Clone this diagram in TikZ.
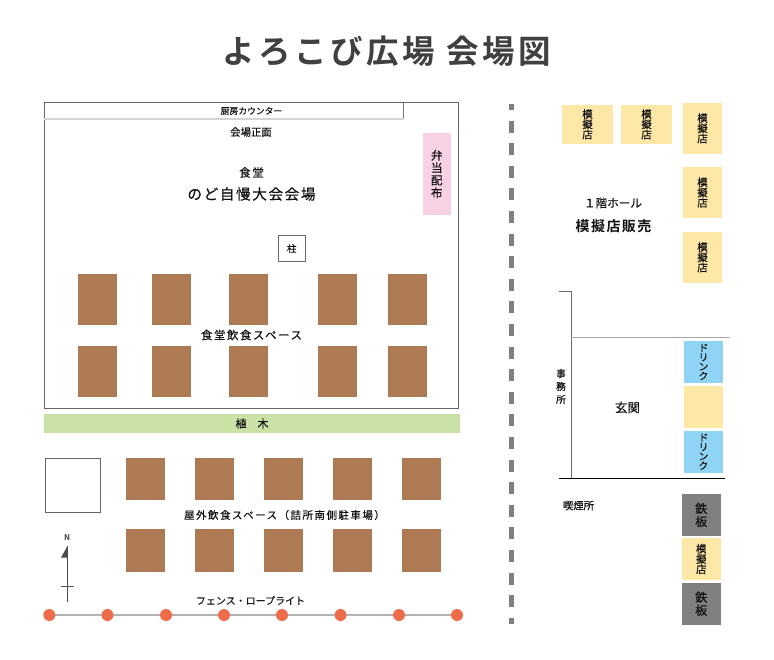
\documentclass[tikz,border=0pt]{standalone}
\usepackage{fontspec}
\setmainfont{Noto Sans CJK JP}
\newfontfamily\jp{Noto Sans CJK JP}[FakeBold=0.12]
\newfontfamily\jpb{Noto Sans CJK JP Bold}
\newfontfamily\jpm{Noto Sans CJK JP}[FakeBold=0.45]
\newfontfamily\jpls{Noto Sans CJK JP}[FakeBold=0.35,LetterSpace=14]
\newfontfamily\jplw{Noto Sans CJK JP}[FakeBold=0.45,LetterSpace=11]
\newfontfamily\jpbs{Noto Sans CJK JP Bold}[LetterSpace=10]
\newfontfamily\titlef{Noto Sans CJK JP Bold}[LetterSpace=11]
\definecolor{brownbox}{HTML}{AE7A53}
\definecolor{yellowbox}{HTML}{FEE8A8}
\definecolor{bluebox}{HTML}{8FD3F5}
\definecolor{pinkbox}{HTML}{F8D2E4}
\definecolor{greenbar}{HTML}{CBE2A7}
\definecolor{graybox}{HTML}{808080}
\definecolor{dotred}{HTML}{EF6C4A}
\definecolor{inkc}{HTML}{111111}
\tikzset{
  base/.style={inner sep=0pt,outer sep=0pt,text=inkc},
  lab/.style={base,align=center},
  table/.style={base,fill=brownbox},
  shop/.style={base,fill=yellowbox,align=center,font=\jpm\fontsize{10.5}{10.2}\selectfont},
  drink/.style={base,fill=bluebox,align=center,font=\jpm\fontsize{9.8}{9.4}\selectfont},
  plate/.style={base,fill=graybox,align=center,font=\jpm\fontsize{12}{13}\selectfont},
  outline/.style={base,draw=black!60,line width=0.9pt},
  dot/.style={base,circle,fill=dotred,minimum size=12pt},
  wire/.style={draw=black!30,line width=1.4pt},
  wall/.style={draw=black!58,line width=1.2pt,line cap=butt},
}
\newcommand{\rbox}[7]{\node[#6,minimum width={(#4-#2)*1pt},minimum height={(#5-#3)*1pt}] (#1) at ({(#2+#4)/2},{(#3+#5)/2}) {#7};}
\newcommand{\fs}[2]{\fontsize{#1}{#2}\selectfont}
\begin{document}
\begin{tikzpicture}[x=1pt,y=-1pt]
\useasboundingbox (0,0) rectangle (774,659);
\node[lab,text=black!75,font=\titlef\fs{32.5}{34}] (title) at (386.5,51) {よろこび広場 会場図};
% hall
\rbox{hall}{44}{102.5}{458.5}{408}{outline,line width=0.8pt}{}
\rbox{counter}{44}{102.5}{403.5}{119}{base}{}
\draw[draw=black!55,line width=0.7pt] (counter.north east) -- (counter.south east);
\draw[draw=black!17,line width=1.6pt] (counter.south west) -- (counter.south east);
\node[lab,font=\jpm\fs{8.8}{10}] (counterlab) at (251.5,111) {厨房カウンター};
\node[lab,font=\jpm\fs{10.4}{12}] (front) at (251,132) {会場正面};
\node[lab,font=\jpls\fs{11.5}{13}] (dining) at (251.5,172.5) {食堂};
\node[lab,font=\jplw\fs{14.6}{16}] (karaoke) at (251.5,194) {のど自慢大会会場};
\rbox{bento}{422.5}{133}{451}{215}{base,fill=pinkbox,align=center,font=\jpm\fs{11.5}{12.5}}{弁\\当\\配\\布}
\rbox{pillar}{278}{235.5}{305.5}{261.5}{outline,line width=0.7pt,font=\jpm\fs{9.5}{10}}{柱}
\foreach \n/\a/\b in {a/78/117,b/152/191,c/228.5/267.5,d/317.5/356.5,e/388/427}{
  \rbox{in1\n}{\a}{274}{\b}{325}{table}{}
  \rbox{in2\n}{\a}{346}{\b}{397}{table}{}
}
\node[lab,font=\jpls\fs{11.4}{12}] (indoorlab) at (251.5,335) {食堂飲食スペース};
\rbox{trees}{44}{414}{460}{433}{base,fill=greenbar,font=\jpm\fs{11}{12}}{植　木}
% outdoor
\rbox{square}{45.5}{458}{100.5}{512.5}{outline,line width=0.7pt}{}
\foreach \n/\a/\b in {a/126/165,b/195/234,c/264/303,d/333/372,e/402/441}{
  \rbox{out1\n}{\a}{458}{\b}{500}{table}{}
  \rbox{out2\n}{\a}{529}{\b}{571.5}{table}{}
}
\node[lab,font=\jpls\fs{10.5}{12}] (outdoorlab) at (284.5,515) {屋外飲食スペース（詰所南側駐車場）};
% north mark
\node[lab,font=\jpb\fs{8}{9},text=black!75] (north) at (67,538) {N};
\coordinate (ntip) at (67.5,546);
\coordinate (nfoot) at (67.5,602);
\draw[draw=black!70,line width=0.8pt] (ntip) -- (nfoot);
\fill[black!70] (ntip) -- (61,557.5) -- (67.5,557.5) -- cycle;
\coordinate (crossl) at (60.5,586);
\coordinate (crossr) at (74,586);
\draw[draw=black!65,line width=0.8pt] (crossl) -- (crossr);
% fence
\node[lab,font=\jp\fs{10}{11},text=black!90] (fencelab) at (250.5,600.5) {フェンス・ロープライト};
\foreach \i/\x in {1/49.3,2/107.5,3/166,4/224,5/282,6/340.5,7/399,8/457}{\node[base] (f\i) at (\x,615) {};}
\draw[wire] (f1) -- (f8);
\foreach \i in {1,...,8}{\node[dot] (dot\i) at (f\i) {};}
% divider
\coordinate (dtop) at (511.3,104);
\coordinate (dbot) at (511.3,624);
\draw[draw=graybox,line width=5.4pt,dash pattern=on 12pt off 10.6pt,dash phase=6pt] (dtop) -- (dbot);
% upper right
\rbox{s1}{562}{105}{613}{143.5}{shop}{模\\擬\\店}
\rbox{s2}{621}{105}{672}{143.5}{shop}{模\\擬\\店}
\rbox{s3}{683}{103}{722}{153.5}{shop}{模\\擬\\店}
\rbox{s4}{683}{167}{722}{218}{shop}{模\\擬\\店}
\rbox{s5}{683}{232}{722}{282.5}{shop}{模\\擬\\店}
\node[lab,font=\jpm\fs{11.6}{13}] (hall1) at (613,203) {１階ホール};
\node[lab,font=\jpbs\fs{14}{15}] (sales) at (613.5,226) {模擬店販売};
% entrance
\coordinate (o1) at (559,291.7);
\coordinate (o2) at (571.3,291.7);
\coordinate (o3) at (571.3,478.5);
\coordinate (o4) at (559,478.5);
\coordinate (o5) at (725,478.5);
\coordinate (o6) at (571.3,337);
\coordinate (o7) at (730,337);
\draw[wall] (o1) -- (o2) -- (o3);
\draw[draw=black!35,line width=1pt] (o6) -- (o7);
\draw[draw=black,line width=1pt] (o4) -- (o5);
\node[lab,font=\jpm\fs{9.8}{13}] (office) at (561,386.5) {事\\務\\所};
\node[lab,font=\jpm\fs{12.5}{14}] (entrance) at (627.5,407.5) {玄関};
\rbox{d1}{684}{341}{723}{383}{drink}{ド\\リ\\ン\\ク}
\rbox{s6}{684}{386}{723}{428}{shop}{}
\rbox{d2}{684}{430.5}{723}{473}{drink}{ド\\リ\\ン\\ク}
\node[lab,font=\jpm\fs{10.4}{12}] (smoke) at (578.5,505.5) {喫煙所};
\rbox{p1}{682}{494}{720.5}{536}{plate}{鉄\\板}
\rbox{s7}{682}{538}{720.5}{580}{shop}{模\\擬\\店}
\rbox{p2}{682}{582.5}{720.5}{625}{plate}{鉄\\板}
\end{tikzpicture}
\end{document}
